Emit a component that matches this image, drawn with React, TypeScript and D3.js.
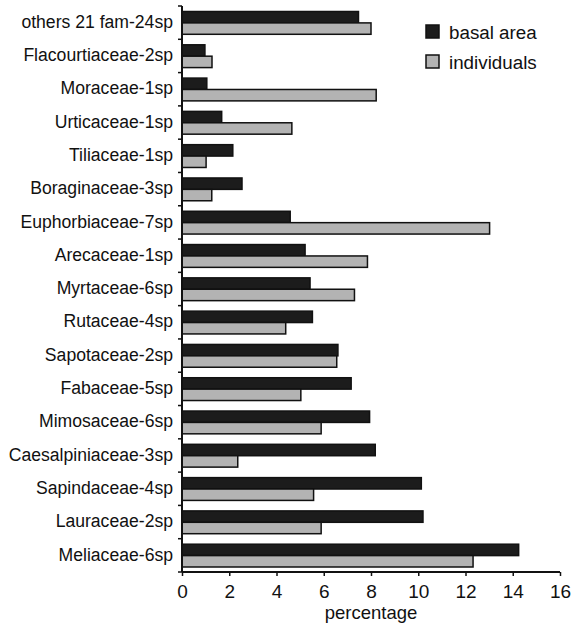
import { useEffect, useRef } from "react";
import * as d3 from "d3";

const categories = [
  "others 21 fam-24sp",
  "Flacourtiaceae-2sp",
  "Moraceae-1sp",
  "Urticaceae-1sp",
  "Tiliaceae-1sp",
  "Boraginaceae-3sp",
  "Euphorbiaceae-7sp",
  "Arecaceae-1sp",
  "Myrtaceae-6sp",
  "Rutaceae-4sp",
  "Sapotaceae-2sp",
  "Fabaceae-5sp",
  "Mimosaceae-6sp",
  "Caesalpiniaceae-3sp",
  "Sapindaceae-4sp",
  "Lauraceae-2sp",
  "Meliaceae-6sp",
];

const basalArea = [
  7.47, 0.97, 1.05, 1.68, 2.15, 2.54, 4.58, 5.21, 5.42, 5.52, 6.6, 7.16, 7.94,
  8.18, 10.13, 10.2, 14.25,
];

const individuals = [
  8.0, 1.27, 8.22, 4.65, 1.02, 1.26, 13.02, 7.85, 7.3, 4.39, 6.55, 5.03, 5.89,
  2.36, 5.57, 5.89, 12.32,
];

const seriesNames = ["basal area", "individuals"];
const seriesColors = ["#1c1c1c", "#b3b3b3"];
const xTicks = [0, 2, 4, 6, 8, 10, 12, 14, 16];

const W = 573;
const H = 625;
const FONT = "'Liberation Sans', Arial, sans-serif";

const App = () => {
  const svgRef = useRef<SVGSVGElement | null>(null);

  useEffect(() => {
    if (!svgRef.current) return;
    const svg = d3.select(svgRef.current);
    svg.selectAll("*").remove();

    const margin = { top: 6, left: 182, right: 13, bottom: 53 };

    const x = d3
      .scaleLinear()
      .domain([0, 16])
      .range([margin.left, W - margin.right]);

    const y = d3
      .scaleBand<string>()
      .domain(categories)
      .range([margin.top, H - margin.bottom])
      .padding(0);

    const bw = y.bandwidth();
    const inner = d3
      .scaleBand<string>()
      .domain(seriesNames)
      .range([5.5, bw - 5])
      .padding(0);

    const rows = categories.map((c, i) => ({
      c,
      vals: [basalArea[i], individuals[i]],
    }));

    const g = svg
      .selectAll("g.row")
      .data(rows)
      .join("g")
      .attr("class", "row")
      .attr("transform", (d) => `translate(0,${y(d.c)})`);

    g.selectAll("rect")
      .data((d) => d.vals.map((v, k) => ({ v, k })))
      .join("rect")
      .attr("x", x(0))
      .attr("y", (d) => inner(seriesNames[d.k])!)
      .attr("width", (d) => x(d.v) - x(0))
      .attr("height", inner.bandwidth())
      .attr("fill", (d) => seriesColors[d.k])
      .attr("stroke", "#111")
      .attr("stroke-width", 1.5);

    // x axis
    const xAxis = svg
      .append("g")
      .attr("transform", `translate(0,${H - margin.bottom})`)
      .call(d3.axisBottom(x).tickValues(xTicks).tickSize(4).tickPadding(9));
    xAxis
      .select(".domain")
      .attr("stroke", "#111")
      .attr("stroke-width", 2)
      .attr("d", `M${x(0)},0H${x(16)}`);
    xAxis.selectAll(".tick line").attr("stroke", "#111").attr("stroke-width", 1.5);
    xAxis
      .selectAll(".tick text")
      .attr("fill", "#111")
      .style("font-family", FONT)
      .style("font-size", "19px");

    // y axis with ticks at band boundaries
    const yAxis = svg.append("g").attr("transform", `translate(${margin.left},0)`);
    yAxis
      .append("line")
      .attr("y1", margin.top)
      .attr("y2", H - margin.bottom)
      .attr("stroke", "#111")
      .attr("stroke-width", 2);
    const bounds = categories.map((c) => y(c)!).concat([H - margin.bottom]);
    yAxis
      .selectAll("line.tk")
      .data(bounds)
      .join("line")
      .attr("class", "tk")
      .attr("x1", -4)
      .attr("x2", 0)
      .attr("y1", (d) => d)
      .attr("y2", (d) => d)
      .attr("stroke", "#111")
      .attr("stroke-width", 1.5);
    yAxis
      .selectAll("text")
      .data(categories)
      .join("text")
      .attr("x", -9)
      .attr("y", (d) => y(d)! + bw / 2 - 1)
      .attr("dy", "0.35em")
      .attr("text-anchor", "end")
      .attr("fill", "#111")
      .style("font-family", FONT)
      .style("font-size", "17.6px")
      .text((d) => d);

    svg
      .append("text")
      .attr("x", (x(0) + x(16)) / 2)
      .attr("y", 619)
      .attr("text-anchor", "middle")
      .attr("fill", "#111")
      .style("font-family", FONT)
      .style("font-size", "18.5px")
      .text("percentage");

    // legend
    const lg = svg
      .append("g")
      .selectAll("g")
      .data(seriesNames)
      .join("g")
      .attr("transform", (_, i) => `translate(426,${25 + i * 30})`);
    lg.append("rect")
      .attr("width", 13)
      .attr("height", 13)
      .attr("fill", (_, i) => seriesColors[i])
      .attr("stroke", "#111")
      .attr("stroke-width", 1.5);
    lg.append("text")
      .attr("x", 23)
      .attr("y", 7)
      .attr("dy", "0.35em")
      .attr("fill", "#111")
      .style("font-family", FONT)
      .style("font-size", "18.8px")
      .text((d) => d);
  }, []);

  return (
    <svg
      ref={svgRef}
      width={W}
      height={H}
      style={{ position: "absolute", left: 0, top: 0, background: "#fff" }}
    />
  );
};

export default App;
